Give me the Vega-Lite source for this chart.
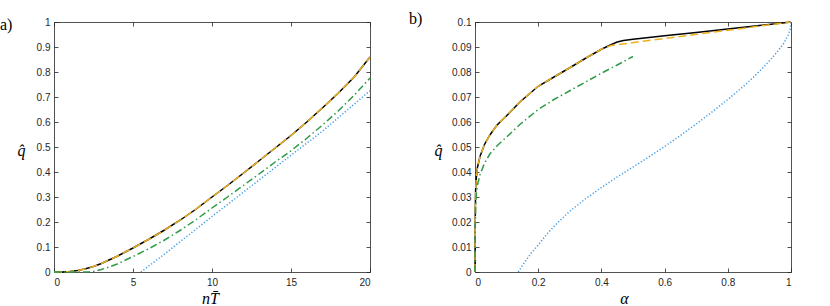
{
  "$schema": "https://vega.github.io/schema/vega-lite/v6.json",
  "padding": {"left": 0, "top": 11, "right": 0, "bottom": 0},
  "background": "white",
  "spacing": 105,
  "bounds": "flush",
  "config": {
    "view": {"stroke": null},
    "axis": {
      "grid": false,
      "domainColor": "#262626",
      "domainWidth": 0.8,
      "tickColor": "#262626",
      "tickWidth": 0.8,
      "tickSize": -4,
      "labelPadding": 8,
      "labelFont": "Liberation Sans",
      "labelFontSize": 10,
      "labelColor": "#262626",
      "titleFont": "Liberation Serif",
      "titleFontStyle": "italic",
      "titleFontWeight": "normal",
      "titleFontSize": 16,
      "titleColor": "#000000"
    },
    "axisBottom": {"labelPadding": 9},
    "title": {
      "font": "Liberation Serif",
      "fontSize": 16,
      "fontWeight": "normal",
      "anchor": "start",
      "frame": "group",
      "color": "#000000",
      "baseline": "alphabetic"
    }
  },
  "datasets": {
    "a": [
      {"s": "k", "x": 0, "q": 0}, {"s": "k", "x": 0.5, "q": 0}, {"s": "k", "x": 1, "q": 0.002}, {"s": "k", "x": 1.5, "q": 0.006},
      {"s": "k", "x": 2, "q": 0.013}, {"s": "k", "x": 2.5, "q": 0.022}, {"s": "k", "x": 3, "q": 0.034}, {"s": "k", "x": 4, "q": 0.063},
      {"s": "k", "x": 5, "q": 0.096}, {"s": "k", "x": 6, "q": 0.131}, {"s": "k", "x": 7, "q": 0.168}, {"s": "k", "x": 8, "q": 0.208},
      {"s": "k", "x": 9, "q": 0.252}, {"s": "k", "x": 10, "q": 0.3}, {"s": "k", "x": 11, "q": 0.347}, {"s": "k", "x": 12, "q": 0.396},
      {"s": "k", "x": 13, "q": 0.446}, {"s": "k", "x": 14, "q": 0.496}, {"s": "k", "x": 15, "q": 0.546}, {"s": "k", "x": 16, "q": 0.6},
      {"s": "k", "x": 17, "q": 0.657}, {"s": "k", "x": 18, "q": 0.716}, {"s": "k", "x": 19, "q": 0.78}, {"s": "k", "x": 20, "q": 0.86},
      {"s": "o", "x": 0, "q": 0}, {"s": "o", "x": 0.5, "q": 0}, {"s": "o", "x": 1, "q": 0.002}, {"s": "o", "x": 1.5, "q": 0.006},
      {"s": "o", "x": 2, "q": 0.013}, {"s": "o", "x": 2.5, "q": 0.022}, {"s": "o", "x": 3, "q": 0.034}, {"s": "o", "x": 4, "q": 0.063},
      {"s": "o", "x": 5, "q": 0.096}, {"s": "o", "x": 6, "q": 0.131}, {"s": "o", "x": 7, "q": 0.168}, {"s": "o", "x": 8, "q": 0.208},
      {"s": "o", "x": 9, "q": 0.252}, {"s": "o", "x": 10, "q": 0.3}, {"s": "o", "x": 11, "q": 0.347}, {"s": "o", "x": 12, "q": 0.396},
      {"s": "o", "x": 13, "q": 0.446}, {"s": "o", "x": 14, "q": 0.496}, {"s": "o", "x": 15, "q": 0.546}, {"s": "o", "x": 16, "q": 0.6},
      {"s": "o", "x": 17, "q": 0.657}, {"s": "o", "x": 18, "q": 0.716}, {"s": "o", "x": 19, "q": 0.78}, {"s": "o", "x": 20, "q": 0.86},
      {"s": "g", "x": 0, "q": 0}, {"s": "g", "x": 1.8, "q": 0}, {"s": "g", "x": 2.2, "q": 0.0005}, {"s": "g", "x": 2.5, "q": 0.002},
      {"s": "g", "x": 3, "q": 0.01}, {"s": "g", "x": 3.5, "q": 0.02}, {"s": "g", "x": 4, "q": 0.032}, {"s": "g", "x": 5, "q": 0.062},
      {"s": "g", "x": 6, "q": 0.093}, {"s": "g", "x": 7, "q": 0.128}, {"s": "g", "x": 8, "q": 0.167}, {"s": "g", "x": 9, "q": 0.21},
      {"s": "g", "x": 10, "q": 0.256}, {"s": "g", "x": 11, "q": 0.301}, {"s": "g", "x": 12, "q": 0.347}, {"s": "g", "x": 13, "q": 0.393},
      {"s": "g", "x": 14, "q": 0.44}, {"s": "g", "x": 15, "q": 0.485}, {"s": "g", "x": 16, "q": 0.535}, {"s": "g", "x": 17, "q": 0.588},
      {"s": "g", "x": 18, "q": 0.645}, {"s": "g", "x": 19, "q": 0.707}, {"s": "g", "x": 20, "q": 0.776},
      {"s": "b", "x": 5.5, "q": 0}, {"s": "b", "x": 7, "q": 0.072}, {"s": "b", "x": 10, "q": 0.222}, {"s": "b", "x": 12, "q": 0.32},
      {"s": "b", "x": 15, "q": 0.467}, {"s": "b", "x": 17, "q": 0.564}, {"s": "b", "x": 20, "q": 0.725}
    ],
    "b": [
      {"s": "k", "x": 0, "q": 0}, {"s": "k", "x": 0.001, "q": 0.025}, {"s": "k", "x": 0.002, "q": 0.033}, {"s": "k", "x": 0.004, "q": 0.0375},
      {"s": "k", "x": 0.008, "q": 0.042}, {"s": "k", "x": 0.016, "q": 0.0463}, {"s": "k", "x": 0.03, "q": 0.051}, {"s": "k", "x": 0.047, "q": 0.0548},
      {"s": "k", "x": 0.07, "q": 0.0588}, {"s": "k", "x": 0.1, "q": 0.0625}, {"s": "k", "x": 0.142, "q": 0.068}, {"s": "k", "x": 0.2, "q": 0.0743},
      {"s": "k", "x": 0.25, "q": 0.078}, {"s": "k", "x": 0.3, "q": 0.0817}, {"s": "k", "x": 0.35, "q": 0.0855}, {"s": "k", "x": 0.4, "q": 0.0891},
      {"s": "k", "x": 0.43, "q": 0.0909}, {"s": "k", "x": 0.45, "q": 0.092}, {"s": "k", "x": 0.47, "q": 0.0926}, {"s": "k", "x": 0.5, "q": 0.0931},
      {"s": "k", "x": 0.6, "q": 0.0945}, {"s": "k", "x": 0.7, "q": 0.0958}, {"s": "k", "x": 0.8, "q": 0.0972}, {"s": "k", "x": 0.9, "q": 0.0986},
      {"s": "k", "x": 1, "q": 0.1},
      {"s": "o", "x": 0, "q": 0}, {"s": "o", "x": 0.001, "q": 0.025}, {"s": "o", "x": 0.002, "q": 0.033}, {"s": "o", "x": 0.004, "q": 0.0375},
      {"s": "o", "x": 0.008, "q": 0.042}, {"s": "o", "x": 0.016, "q": 0.0463}, {"s": "o", "x": 0.03, "q": 0.051}, {"s": "o", "x": 0.047, "q": 0.0548},
      {"s": "o", "x": 0.07, "q": 0.0588}, {"s": "o", "x": 0.1, "q": 0.0625}, {"s": "o", "x": 0.142, "q": 0.068}, {"s": "o", "x": 0.2, "q": 0.0743},
      {"s": "o", "x": 0.25, "q": 0.078}, {"s": "o", "x": 0.3, "q": 0.0817}, {"s": "o", "x": 0.35, "q": 0.0855}, {"s": "o", "x": 0.4, "q": 0.0891},
      {"s": "o", "x": 0.43, "q": 0.0906}, {"s": "o", "x": 1, "q": 0.1},
      {"s": "g", "x": 0, "q": 0}, {"s": "g", "x": 0.001, "q": 0.018}, {"s": "g", "x": 0.002, "q": 0.026}, {"s": "g", "x": 0.004, "q": 0.031},
      {"s": "g", "x": 0.008, "q": 0.035}, {"s": "g", "x": 0.016, "q": 0.039}, {"s": "g", "x": 0.03, "q": 0.0435}, {"s": "g", "x": 0.047, "q": 0.0472},
      {"s": "g", "x": 0.07, "q": 0.0505}, {"s": "g", "x": 0.1, "q": 0.054}, {"s": "g", "x": 0.142, "q": 0.059}, {"s": "g", "x": 0.2, "q": 0.065},
      {"s": "g", "x": 0.25, "q": 0.069}, {"s": "g", "x": 0.3, "q": 0.0725}, {"s": "g", "x": 0.35, "q": 0.076}, {"s": "g", "x": 0.4, "q": 0.0795},
      {"s": "g", "x": 0.45, "q": 0.0828}, {"s": "g", "x": 0.5, "q": 0.0862},
      {"s": "b", "x": 0.137, "q": 0}, {"s": "b", "x": 0.15, "q": 0.0026}, {"s": "b", "x": 0.165, "q": 0.0053}, {"s": "b", "x": 0.18, "q": 0.0079},
      {"s": "b", "x": 0.2, "q": 0.0108}, {"s": "b", "x": 0.23, "q": 0.0155}, {"s": "b", "x": 0.258, "q": 0.0193}, {"s": "b", "x": 0.3, "q": 0.0243},
      {"s": "b", "x": 0.35, "q": 0.0293}, {"s": "b", "x": 0.4, "q": 0.0338}, {"s": "b", "x": 0.45, "q": 0.038}, {"s": "b", "x": 0.5, "q": 0.042},
      {"s": "b", "x": 0.55, "q": 0.046}, {"s": "b", "x": 0.6, "q": 0.0502}, {"s": "b", "x": 0.65, "q": 0.0546}, {"s": "b", "x": 0.7, "q": 0.0592},
      {"s": "b", "x": 0.75, "q": 0.064}, {"s": "b", "x": 0.8, "q": 0.069}, {"s": "b", "x": 0.85, "q": 0.0743}, {"s": "b", "x": 0.88, "q": 0.0778},
      {"s": "b", "x": 0.91, "q": 0.0815}, {"s": "b", "x": 0.934, "q": 0.0848}, {"s": "b", "x": 0.955, "q": 0.0878}, {"s": "b", "x": 0.976, "q": 0.0913},
      {"s": "b", "x": 0.99, "q": 0.0945}, {"s": "b", "x": 0.997, "q": 0.0968}, {"s": "b", "x": 1, "q": 0.1}
    ]
  },
  "hconcat": [
    {
      "width": 316,
      "height": 250,
      "title": {"text": "a)", "dx": -54, "offset": -16},
      "data": {"name": "a"},
      "resolve": {"axis": {"x": "independent", "y": "independent"}},
      "layer": [
        {
          "transform": [{"filter": "datum.s == 'k'"}],
          "mark": {"type": "line", "color": "#000000", "strokeWidth": 1.5},
          "encoding": {
            "x": {"field": "x", "type": "quantitative", "scale": {"domain": [0, 20], "nice": false, "zero": false},
                  "axis": {"orient": "top", "labels": false, "title": null, "values": [0, 5, 10, 15, 20]}},
            "y": {"field": "q", "type": "quantitative", "scale": {"domain": [0, 1], "nice": false, "zero": false},
                  "axis": {"orient": "right", "labels": false, "title": null, "values": [0, 0.1, 0.2, 0.3, 0.4, 0.5, 0.6, 0.7, 0.8, 0.9, 1]}}
          }
        },
        {
          "transform": [{"filter": "datum.s != 'k'"}],
          "mark": {"type": "line", "strokeWidth": 1.5},
          "encoding": {
            "x": {"field": "x", "type": "quantitative", "scale": {"domain": [0, 20], "nice": false, "zero": false},
                  "axis": {"orient": "bottom", "title": "nT\u0304", "values": [0, 5, 10, 15, 20], "format": "~g",
                           "titleX": 156, "titleY": 31, "titleAlign": "center", "titleBaseline": "alphabetic"}},
            "y": {"field": "q", "type": "quantitative", "scale": {"domain": [0, 1], "nice": false, "zero": false},
                  "axis": {"orient": "left", "title": "q\u0302", "values": [0, 0.1, 0.2, 0.3, 0.4, 0.5, 0.6, 0.7, 0.8, 0.9, 1], "format": "~g",
                           "titleAngle": 0, "titleX": -33, "titleY": 128, "titleAlign": "center", "titleBaseline": "middle"}},
            "color": {"field": "s", "type": "nominal", "legend": null,
                      "scale": {"domain": ["o", "g", "b"], "range": ["#EDB120", "#2E9A46", "#3D9BE8"]}},
            "strokeDash": {"field": "s", "type": "nominal", "legend": null,
                           "scale": {"domain": ["o", "g", "b"], "range": [[8, 4], [7, 3, 1.5, 3], [1.2, 2]]}}
          }
        }
      ]
    },
    {
      "width": 316,
      "height": 250,
      "title": {"text": "b)", "dx": -66, "offset": -10},
      "data": {"name": "b"},
      "resolve": {"axis": {"x": "independent", "y": "independent"}},
      "layer": [
        {
          "transform": [{"filter": "datum.s == 'k'"}],
          "mark": {"type": "line", "color": "#000000", "strokeWidth": 1.5},
          "encoding": {
            "x": {"field": "x", "type": "quantitative", "scale": {"domain": [0, 1], "nice": false, "zero": false},
                  "axis": {"orient": "top", "labels": false, "title": null, "values": [0, 0.2, 0.4, 0.6, 0.8, 1]}},
            "y": {"field": "q", "type": "quantitative", "scale": {"domain": [0, 0.1], "nice": false, "zero": false},
                  "axis": {"orient": "right", "labels": false, "title": null, "values": [0, 0.01, 0.02, 0.03, 0.04, 0.05, 0.06, 0.07, 0.08, 0.09, 0.1]}}
          }
        },
        {
          "transform": [{"filter": "datum.s != 'k'"}],
          "mark": {"type": "line", "strokeWidth": 1.5},
          "encoding": {
            "x": {"field": "x", "type": "quantitative", "scale": {"domain": [0, 1], "nice": false, "zero": false},
                  "axis": {"orient": "bottom", "title": "\u03b1", "values": [0, 0.2, 0.4, 0.6, 0.8, 1], "format": "~g",
                           "titleX": 149, "titleY": 31, "titleAlign": "center", "titleBaseline": "alphabetic"}},
            "y": {"field": "q", "type": "quantitative", "scale": {"domain": [0, 0.1], "nice": false, "zero": false},
                  "axis": {"orient": "left", "title": "q\u0302", "values": [0, 0.01, 0.02, 0.03, 0.04, 0.05, 0.06, 0.07, 0.08, 0.09, 0.1], "format": "~g",
                           "titleAngle": 0, "titleX": -37, "titleY": 128, "titleAlign": "center", "titleBaseline": "middle"}},
            "color": {"field": "s", "type": "nominal", "legend": null,
                      "scale": {"domain": ["o", "g", "b"], "range": ["#EDB120", "#2E9A46", "#3D9BE8"]}},
            "strokeDash": {"field": "s", "type": "nominal", "legend": null,
                           "scale": {"domain": ["o", "g", "b"], "range": [[8, 4], [7, 3, 1.5, 3], [1.2, 2]]}}
          }
        }
      ]
    }
  ]
}
